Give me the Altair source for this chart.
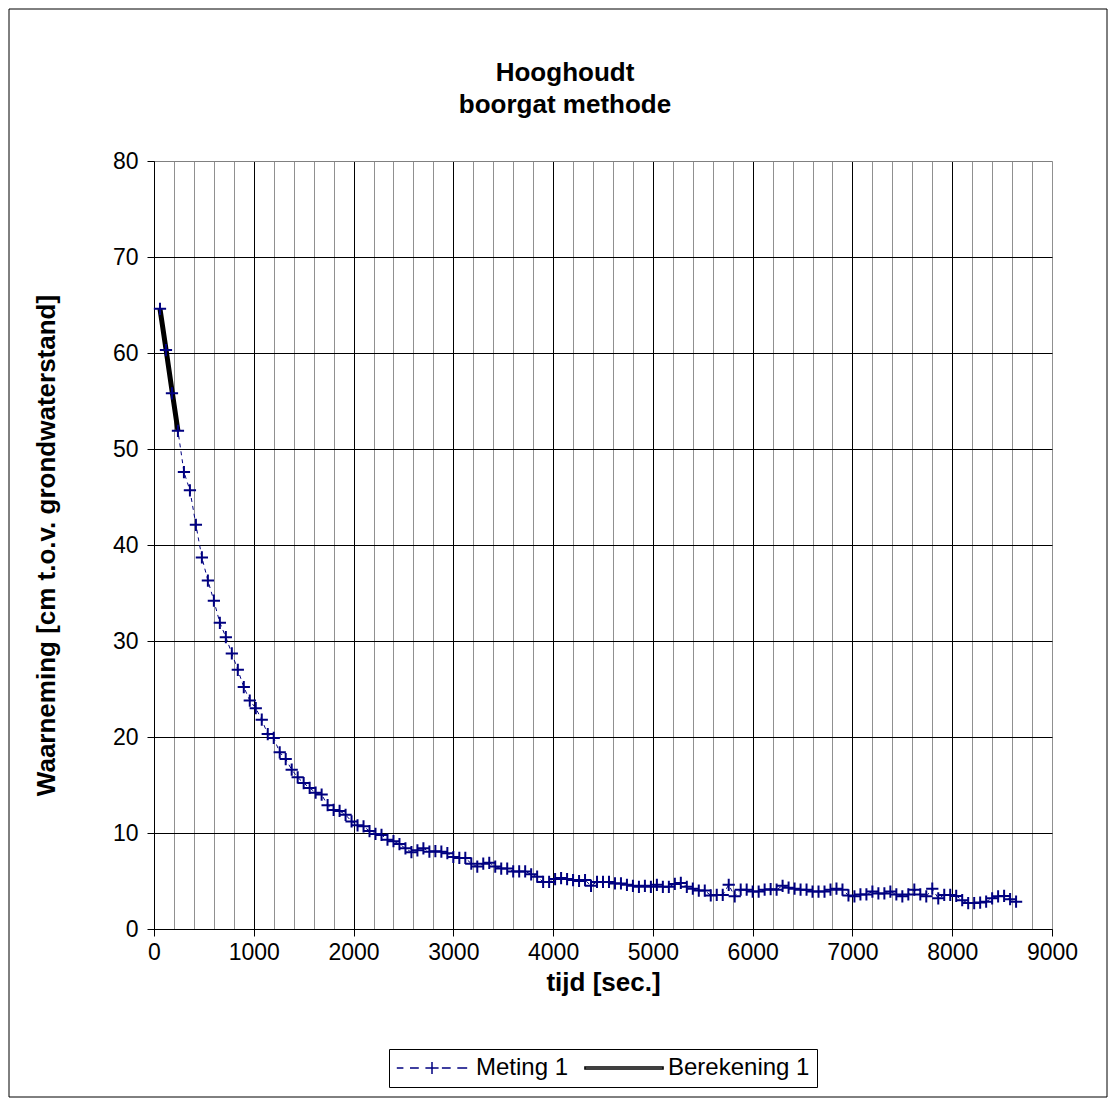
import altair as alt
import pandas as pd

# ---------------- data ----------------
tijd = [60, 120, 180, 240, 300, 360, 420, 480, 540, 600,
        660, 720, 780, 840, 900, 960, 1020, 1080, 1140, 1200,
        1260, 1320, 1380, 1440, 1500, 1560, 1620, 1680, 1740, 1800,
        1860, 1920, 1980, 2040, 2100, 2160, 2220, 2280, 2340, 2400,
        2460, 2520, 2580, 2640, 2700, 2760, 2820, 2880, 2940, 3000,
        3060, 3120, 3180, 3240, 3300, 3360, 3420, 3480, 3540, 3600,
        3660, 3720, 3780, 3840, 3900, 3960, 4020, 4080, 4140, 4200,
        4260, 4320, 4380, 4440, 4500, 4560, 4620, 4680, 4740, 4800,
        4860, 4920, 4980, 5040, 5100, 5160, 5220, 5280, 5340, 5400,
        5460, 5520, 5580, 5640, 5700, 5760, 5820, 5880, 5940, 6000,
        6060, 6120, 6180, 6240, 6300, 6360, 6420, 6480, 6540, 6600,
        6660, 6720, 6780, 6840, 6900, 6960, 7020, 7080, 7140, 7200,
        7260, 7320, 7380, 7440, 7500, 7560, 7620, 7680, 7740, 7800,
        7860, 7920, 7980, 8040, 8100, 8160, 8220, 8280, 8340, 8400,
        8460, 8520, 8580, 8640]

meting = [64.6, 60.3, 55.8, 51.9, 47.6, 45.7, 42.1, 38.7, 36.3, 34.2,
          31.9, 30.4, 28.7, 27.0, 25.2, 23.8, 23.0, 21.8, 20.3, 19.9,
          18.4, 17.7, 16.6, 15.8, 15.2, 14.7, 14.2, 14.0, 12.9, 12.4,
          12.3, 11.9, 11.2, 10.8, 10.7, 10.2, 9.9, 9.8, 9.3, 9.15,
          8.85, 8.4, 8.0, 8.2, 8.4, 8.05, 8.1, 8.05, 7.9, 7.5,
          7.4, 7.4, 6.8, 6.5, 6.8, 6.9, 6.5, 6.3, 6.3, 6.0,
          6.0, 6.0, 5.7, 5.45, 4.9, 4.9, 5.2, 5.3, 5.2, 5.1,
          5.0, 5.1, 4.5, 4.9, 4.9, 4.9, 4.75, 4.75, 4.6, 4.5,
          4.4, 4.5, 4.4, 4.6, 4.4, 4.4, 4.7, 4.8, 4.4, 4.2,
          4.0, 4.0, 3.5, 3.55, 3.55, 4.6, 3.4, 4.1, 4.1, 3.9,
          3.9, 4.1, 4.15, 4.1, 4.5, 4.3, 4.2, 4.1, 4.1, 3.9,
          3.9, 3.9, 4.1, 4.2, 4.1, 3.5, 3.4, 3.6, 3.6, 3.9,
          3.7, 3.7, 3.9, 3.6, 3.4, 3.6, 4.1, 3.6, 3.4, 4.2,
          3.2, 3.55, 3.55, 3.45, 3.0, 2.7, 2.7, 2.75, 2.85, 3.2,
          3.4, 3.45, 3.1, 2.85]

berekening_tijd = [60, 120, 180, 240]
berekening = [64.6, 60.4, 56.1, 51.9]

reeksen = ["Meting 1", "Berekening 1"]

x_waarden = [0, 200, 400, 600, 800, 1000, 1200, 1400, 1600, 1800,
             2000, 2200, 2400, 2600, 2800, 3000, 3200, 3400, 3600, 3800,
             4000, 4200, 4400, 4600, 4800, 5000, 5200, 5400, 5600, 5800,
             6000, 6200, 6400, 6600, 6800, 7000, 7200, 7400, 7600, 7800,
             8000, 8200, 8400, 8600, 8800, 9000]
y_waarden = [0, 10, 20, 30, 40, 50, 60, 70, 80]

titel = ["Hooghoudt", "boorgat methode"]
x_titel = "tijd [sec.]"
y_titel = "Waarneming [cm t.o.v. grondwaterstand]"

# ---------------- frames ----------------
df_m = pd.DataFrame({"tijd": tijd, "waarde": meting, "reeks": reeksen[0]})
df_b = pd.DataFrame({"tijd": berekening_tijd, "waarde": berekening, "reeks": reeksen[1]})
df_leg = pd.DataFrame({"tijd": [tijd[0], berekening_tijd[0]],
                       "waarde": [meting[0], berekening[0]],
                       "reeks": reeksen})

FONT = "Liberation Sans"
NAVY = "#000080"
W, H = 898, 768

x_scale = alt.Scale(domain=[0, 9000], nice=False, zero=False)
y_scale = alt.Scale(domain=[0, 80], nice=False, zero=False)

x_axis = alt.Axis(
    values=x_waarden,
    grid=True,
    gridColor={"condition": {"test": "datum.value % 1000 === 0 && datum.value < 9000", "value": "#000000"},
               "value": "#909090"},
    gridWidth=1,
    ticks=True,
    tickColor="#000000",
    tickSize=7,
    tickOpacity={"condition": {"test": "datum.value % 1000 === 0", "value": 1}, "value": 0},
    labelExpr="datum.value % 1000 === 0 ? datum.label : ''",
    format="d",
    labelFont=FONT, labelFontSize=23, labelColor="#000000", labelPadding=5,
    labelFlush=False, labelOverlap=False,
    domainColor="#000000", domainWidth=1,
    title=x_titel, titleFont=FONT, titleFontSize=26, titleFontWeight="bold",
    titleColor="#000000", titleX=449, titleY=53, titleBaseline="middle", titleAlign="center",
)

y_axis = alt.Axis(
    values=y_waarden,
    grid=True,
    gridColor={"condition": {"test": "datum.value === 80", "value": "#808080"}, "value": "#000000"},
    gridWidth=1,
    tickColor="#000000", tickSize=7,
    labelFont=FONT, labelFontSize=23, labelColor="#000000", labelPadding=9,
    domainColor="#000000", domainWidth=1,
    title=y_titel, titleFont=FONT, titleFontSize=26, titleFontWeight="bold",
    titleColor="#000000", titleX=-108, titleY=384, titleAngle=270,
    titleBaseline="middle", titleAlign="center",
)

X = alt.X("tijd:Q", scale=x_scale, axis=x_axis)
Y = alt.Y("waarde:Q", scale=y_scale, axis=y_axis)

path_meting = ("M-3.2,0H-2.6M-2.0,0H-1.2M-0.6,0H0.6M0,-0.55V0.55"
               "M0.9,0H1.7M2.3,0H3.2")
path_berek = "M-3.55,-0.1H3.55V0.1H-3.55Z"

legend = alt.Legend(
    title=None, orient="none", legendX=235, legendY=888,
    direction="horizontal", strokeColor="#000000", fillColor="#ffffff",
    padding=7, labelFont=FONT, labelFontSize=24, labelColor="#000000",
    symbolOffset=24, labelOffset=32, columnPadding=12,
    symbolStrokeWidth=1.5, symbolSize=484, labelLimit=400,
)

# decorative outer frame of the chart
frame = alt.Chart(pd.DataFrame({"k": [0]})).mark_rect(
    fill=None, stroke="#000000", strokeWidth=1
).encode(
    x=alt.value(-145), x2=alt.value(953), y=alt.value(-152), y2=alt.value(936)
)

line_m = alt.Chart(df_m).mark_line(
    color=NAVY, strokeWidth=1, strokeDash=[4, 4]
).encode(x=X, y=Y)

line_b = alt.Chart(df_b).mark_line(
    color="#000000", strokeWidth=5
).encode(x=X, y=Y)

points_m = alt.Chart(df_m).mark_point(
    shape="M-1,0H1M0,-1V1", size=150, filled=False, color=NAVY, strokeWidth=2, opacity=1
).encode(x=X, y=Y)

legend_layer = alt.Chart(df_leg).mark_point(
    filled=False, strokeWidth=1.5, size=484, opacity=1
).encode(
    x=X, y=Y,
    color=alt.Color("reeks:N", scale=alt.Scale(domain=reeksen, range=[NAVY, "#000000"]), legend=legend),
    shape=alt.Shape("reeks:N", scale=alt.Scale(domain=reeksen, range=[path_meting, path_berek]), legend=legend),
).transform_filter("false")

chart = alt.layer(frame, line_m, line_b, points_m, legend_layer).properties(
    width=W, height=H,
    title=alt.TitleParams(
        text=titel, font=FONT, fontSize=26, fontWeight="bold", color="#000000",
        anchor="middle", dx=-38, offset=0, dy=109, lineHeight=32,
    ),
    autosize=alt.AutoSizeParams(type="none"),
    padding={"left": 146, "top": 153, "right": 56, "bottom": 169},
).configure_view(stroke="#808080", strokeWidth=1).configure(background="#ffffff")

chart.save("out.html", embed_options={"renderer": "svg", "actions": False})
